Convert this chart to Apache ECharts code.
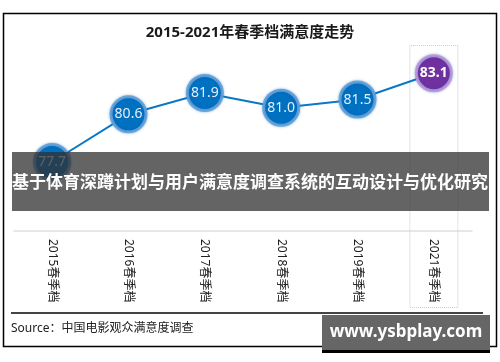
<!DOCTYPE html>
<html><head><meta charset="utf-8">
<script src="https://cdn.jsdelivr.net/npm/echarts@6/dist/echarts.min.js"></script>
<style>html,body{margin:0;padding:0;background:#fff}#c{width:500px;height:362px}</style>
</head><body><div id="c"></div>
<script>
var categories = ['2015春季档','2016春季档','2017春季档','2018春季档','2019春季档','2021春季档'];
var satisfaction = [77.7, 80.6, 81.9, 81.0, 81.5, 83.1];
var highlightIndex = 5;
var titleText = '2015-2021年春季档满意度走势';
var bannerText = '基于体育深蹲计划与用户满意度调查系统的互动设计与优化研究';
var sourceText = 'Source：中国电影观众满意度调查';
var watermarkText = 'www.ysbplay.com';

var FONT = "'Noto Sans','Noto Sans CJK SC',sans-serif";
var lineData = satisfaction.map(function(v, i){
  if (i === highlightIndex) {
    return {value: v, itemStyle: {color: '#7030a0', borderColor: 'rgba(190,150,215,0.9)'},
      label: {fontWeight: 'bold', color: '#fff'}};
  }
  return v;
});
var boxData = categories.map(function(c, i){ return i === highlightIndex ? 1 : '-'; });

var chart = echarts.init(document.getElementById('c'));
chart.setOption({
  animation: false,
  textStyle: {fontFamily: FONT},
  title: {text: titleText, left: 'center', top: 20,
    textStyle: {fontSize: 15, fontWeight: 'bold', color: '#1a1a1a', fontFamily: FONT}},
  grid: [
    {left: 14, right: 28, top: 42, bottom: 131},
    {left: 14, right: 28, top: 45, bottom: 54}
  ],
  xAxis: [
    {type: 'category', data: categories, gridIndex: 0, boundaryGap: true,
      axisLine: {lineStyle: {color: '#e0e0e0', width: 1.5}},
      axisTick: {show: false},
      axisLabel: {rotate: -90, margin: 8, fontSize: 12, color: '#222', fontFamily: FONT}},
    {type: 'category', data: categories, gridIndex: 1, show: false}
  ],
  yAxis: [
    {type: 'value', gridIndex: 0, min: 73.5, max: 85, show: false, splitLine: {show: false}},
    {type: 'value', gridIndex: 1, min: 0, max: 1, show: false, splitLine: {show: false}}
  ],
  series: [
    {type: 'bar', xAxisIndex: 1, yAxisIndex: 1, data: boxData, barWidth: 49, z: 1,
      itemStyle: {color: 'rgba(0,0,0,0)', borderColor: '#c8c8c8', borderWidth: 1, borderType: 'dotted'},
      silent: true},
    {type: 'line', xAxisIndex: 0, yAxisIndex: 0, data: lineData, z: 3,
      lineStyle: {color: '#0a78c8', width: 2},
      symbol: 'circle', symbolSize: 35,
      itemStyle: {color: '#0070c0', borderColor: 'rgba(100,160,215,0.9)', borderWidth: 3,
        shadowBlur: 3, shadowColor: 'rgba(0,100,180,0.4)'},
      label: {show: true, position: 'inside', fontSize: 14, color: '#e6eef8', fontFamily: FONT,
        formatter: function(p){ return Number(p.value).toFixed(1); }}}
  ],
  graphic: [
    {type: 'rect', z: 100, shape: {x: 3.5, y: 13.5, width: 493, height: 333},
      style: {fill: 'none', stroke: '#000', lineWidth: 1.5}},
    {type: 'rect', z: 110, shape: {x: 12, y: 152, width: 477, height: 59},
      style: {fill: 'rgba(48,48,48,0.75)'}},
    {type: 'text', z: 111, x: 250, y: 183,
      style: {text: bannerText, fill: '#fff', font: 'bold 17px ' + FONT, textAlign: 'center', textVerticalAlign: 'middle'}},
    {type: 'line', z: 100, shape: {x1: 11, y1: 313, x2: 483, y2: 313},
      style: {stroke: '#444', lineWidth: 2}},
    {type: 'text', z: 100, x: 11, y: 329,
      style: {text: sourceText, fill: '#222', font: '12px ' + FONT, textAlign: 'left', textVerticalAlign: 'middle'}},
    {type: 'rect', z: 120, shape: {x: 322, y: 349, width: 168, height: 4}, style: {fill: '#000'}},
    {type: 'rect', z: 121, shape: {x: 322, y: 315, width: 168, height: 35}, style: {fill: '#666'}},
    {type: 'text', z: 122, x: 406, y: 332,
      style: {text: watermarkText, fill: '#fff', font: 'bold 17px ' + FONT, textAlign: 'center', textVerticalAlign: 'middle'}}
  ]
});
</script></body></html>
